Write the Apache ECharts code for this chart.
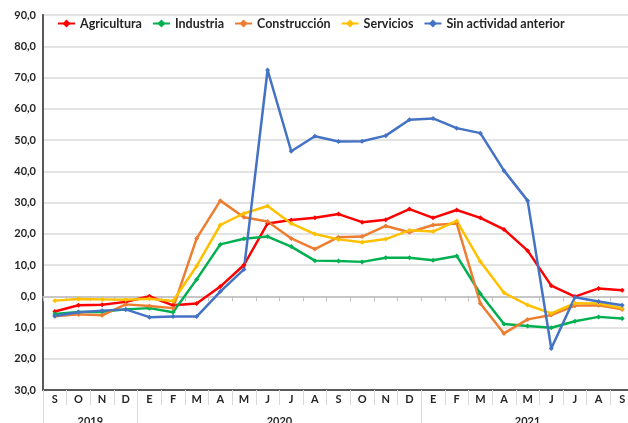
<!DOCTYPE html>
<html>
<head>
<meta charset="utf-8">
<script src="https://cdn.jsdelivr.net/npm/echarts@6/dist/echarts.min.js"></script>
<style>
  html, body { margin: 0; padding: 0; background: #fff; }
  #chart { width: 628px; height: 423px; }
</style>
</head>
<body>
<div id="chart"></div>
<script>
// months Sep 2019 .. Sep 2021
const months = ["S", "O", "N", "D", "E", "F", "M", "A", "M", "J", "J", "A",
  "S", "O", "N", "D", "E", "F", "M", "A", "M", "J", "J", "A", "S"];

// year groups: label position (category index) and separator positions
const years = ["2019", "2020", "2021"];
const yearCenters = [1.5, 9.5, 20];
const yearBreaks = [-0.5, 3.5, 15.5];

const agricultura = [-4.9, -2.9, -2.7, -1.8, 0.0, -2.9, -2.3, 3.1, 10.0, 23.3, 24.4, 25.1,
  26.3, 23.7, 24.5, 27.9, 25.1, 27.6, 25.1, 21.4, 14.6, 3.4, -0.1, 2.5, 1.9];
const industria = [-5.7, -5.0, -5.0, -4.2, -3.8, -5.1, 5.4, 16.6, 18.4, 19.1, 15.9, 11.4,
  11.3, 11.0, 12.3, 12.3, 11.5, 12.9, 0.8, -8.9, -9.5, -10.1, -8.0, -6.6, -7.1];
const construccion = [-6.4, -5.8, -6.1, -2.6, -3.1, -3.8, 18.5, 30.6, 25.3, 23.9, 18.5, 15.1,
  18.9, 19.1, 22.5, 20.5, 22.8, 23.3, -2.3, -11.9, -7.4, -6.0, -3.0, -2.9, -4.2];
const servicios = [-1.4, -0.9, -1.0, -1.1, -0.8, -1.5, 9.7, 22.8, 26.5, 28.9, 23.3, 19.9,
  18.2, 17.3, 18.3, 21.1, 20.7, 24.1, 11.1, 1.1, -2.8, -5.5, -2.2, -2.3, -3.8];
const sinActividad = [-6.3, -5.1, -4.6, -4.2, -6.7, -6.5, -6.5, 1.5, 8.6, 72.4, 46.4, 51.2,
  49.5, 49.6, 51.4, 56.5, 56.9, 53.8, 52.2, 40.2, 30.6, -16.7, -0.3, -1.7, -2.9];

const seriesDefs = [
  { name: "Agricultura", data: agricultura, color: "#ff0000" },
  { name: "Industria", data: industria, color: "#00b050" },
  { name: "Construcción", data: construccion, color: "#ed7d31" },
  { name: "Servicios", data: servicios, color: "#ffc000" },
  { name: "Sin actividad anterior", data: sinActividad, color: "#4472c4" }
];

const FONT = "Lato";
const chart = echarts.init(document.getElementById("chart"));

const option = {
  animation: false,
  backgroundColor: "#fff",
  textStyle: { fontFamily: FONT },
  legend: {
    left: 52,
    top: 12,
    itemWidth: 17,
    itemHeight: 10,
    itemGap: 10,
    textStyle: { fontFamily: FONT, fontWeight: "bold", fontSize: 12.5, color: "#262626" }
  },
  grid: {
    left: 43,
    width: 591,
    top: 15,
    bottom: 33,
    containLabel: false,
    outerBoundsMode: "none",
    show: true,
    borderColor: "#595959",
    borderWidth: 1.5
  },
  xAxis: [
    {
      // axis crossing at zero: line and short ticks only
      type: "category",
      data: months,
      boundaryGap: true,
      axisLine: { onZero: true, lineStyle: { color: "#bfbfbf", width: 1.5 } },
      axisTick: { show: true, interval: 0, length: 5, lineStyle: { color: "#bfbfbf" } },
      axisLabel: { show: false },
      splitLine: { show: false }
    },
    {
      // month labels at the bottom
      type: "category",
      data: months,
      position: "bottom",
      boundaryGap: true,
      axisLine: { onZero: false, lineStyle: { color: "#595959", width: 2 } },
      axisTick: { show: true, interval: 0, length: 15, lineStyle: { color: "#d9d9d9" } },
      axisLabel: {
        interval: 0, margin: 4,
        fontFamily: FONT, fontWeight: "bold", fontSize: 11, color: "#262626"
      },
      splitLine: { show: false }
    },
    {
      // year labels
      type: "value",
      position: "bottom",
      offset: 15,
      min: -0.5,
      max: 24.5,
      axisLine: { show: false, onZero: false },
      axisTick: { show: true, customValues: yearBreaks, length: 18, lineStyle: { color: "#d9d9d9" } },
      axisLabel: {
        customValues: yearCenters,
        margin: 11,
        formatter: function (v) {
          const i = yearCenters.indexOf(v);
          return i >= 0 ? years[i] : "";
        },
        fontFamily: FONT, fontWeight: "bold", fontSize: 11, color: "#262626"
      },
      splitLine: { show: false }
    }
  ],
  yAxis: {
    type: "value",
    min: -30,
    max: 90,
    interval: 10,
    axisLine: { show: true, onZero: false, lineStyle: { color: "#595959", width: 2 } },
    axisTick: { show: false },
    axisLabel: {
      margin: 7,
      fontFamily: FONT, fontWeight: "bold", fontSize: 11, color: "#262626",
      formatter: function (v) { return Math.abs(v).toFixed(1).replace(".", ","); }
    },
    splitLine: { show: true, lineStyle: { color: "#e3e3e3", width: 2 } }
  },
  series: seriesDefs.map(function (s) {
    return {
      name: s.name,
      type: "line",
      xAxisIndex: 1,
      data: s.data,
      color: s.color,
      symbol: "diamond",
      symbolSize: 5,
      lineStyle: { width: 2.5, color: s.color },
      itemStyle: { color: s.color }
    };
  })
};

chart.setOption(option);
</script>
</body>
</html>
